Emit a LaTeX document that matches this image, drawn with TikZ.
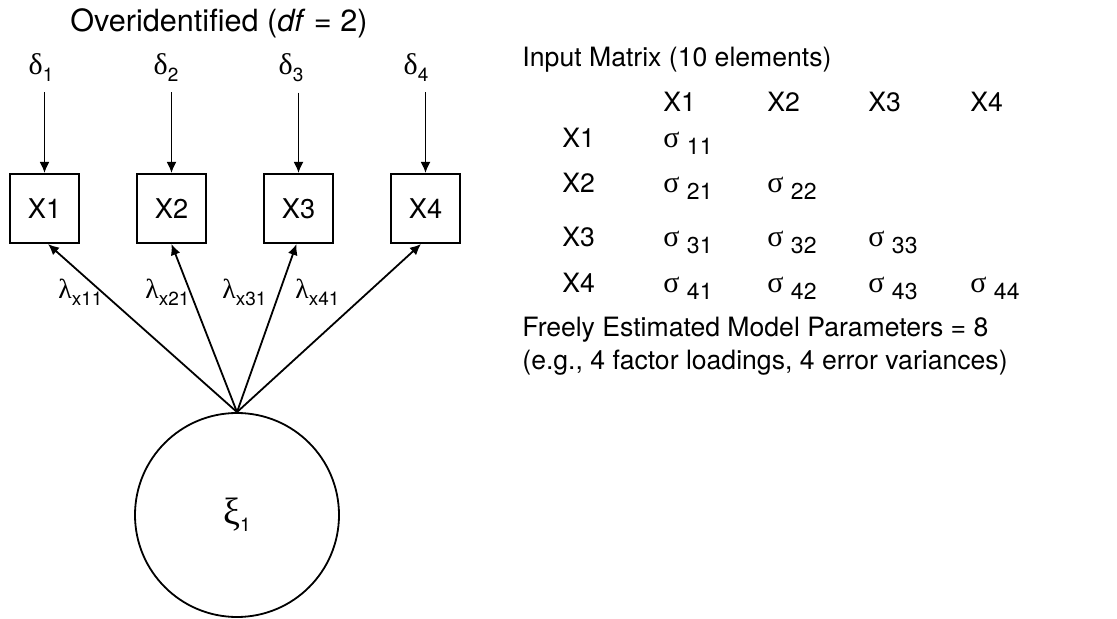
\documentclass[tikz,border=0pt]{standalone}
\usepackage{fontspec}
\setmainfont{TeX Gyre Heros}
\newfontfamily\grkfont{Liberation Serif}
\usepackage{tikz}
\usetikzlibrary{arrows.meta,positioning}
\newcommand{\grk}[2][14.5]{{\fontsize{#1}{#1}\grkfont\selectfont #2}}
\newcommand{\lowsub}[1]{\raisebox{-3.5pt}{\fontsize{9.5}{10}\selectfont #1}}
\newcommand{\msub}[1]{\raisebox{-3.5pt}{\fontsize{11.5}{12}\selectfont #1}}

\begin{document}
\begin{tikzpicture}[
  x=0.5pt, y=-0.5pt,
  txt/.style={font=\fontsize{13.3}{16}\selectfont, inner sep=0pt},
  dlt/.style={font=\fontsize{13.3}{16}\selectfont, inner sep=5pt},
  obs/.style={draw, line width=1pt, minimum size=34.5pt, inner sep=0pt,
    font=\fontsize{13.6}{16}\selectfont},
  lat/.style={draw, circle, line width=0.9pt, minimum size=102pt, inner sep=0pt,
    font=\fontsize{13.3}{16}\selectfont},
  arr/.style={-{Latex[length=5.5pt,width=5pt]}, line width=0.9pt}
]
  \useasboundingbox (0,0) rectangle (1117,619);
  % model
  \node[txt, anchor=base west, font=\fontsize{15.3}{18}\selectfont] (title) at (70,32)
    {Overidentified (\textit{df} = 2)};
  \node[obs] (x1) at (44.5,208.5) {X1};
  \node[obs, right=28pt of x1] (x2) {X2};
  \node[obs, right=28pt of x2] (x3) {X3};
  \node[obs, right=28pt of x3] (x4) {X4};
  \node[dlt, anchor=base] (d1) at (41,75) {\grk[15]{δ}\lowsub{1}};
  \node[dlt, anchor=base] (d2) at (166,75) {\grk[15]{δ}\lowsub{2}};
  \node[dlt, anchor=base] (d3) at (291,75) {\grk[15]{δ}\lowsub{3}};
  \node[dlt, anchor=base] (d4) at (416,75) {\grk[15]{δ}\lowsub{4}};
  \node[lat] (xi) at (237,515) {\grk[19]{ξ}\lowsub{1}};
  \draw[arr] (d1.south -| x1) -- (x1.north);
  \draw[arr] (d2.south -| x2) -- (x2.north);
  \draw[arr] (d3.south -| x3) -- (x3.north);
  \draw[arr] (d4.south -| x4) -- (x4.north);
  \draw[arr] (xi.north) -- ([xshift=1.75pt]x1.south);
  \draw[arr] (xi.north) -- (x2.south);
  \draw[arr] (xi.north) -- ([xshift=-1pt]x3.south);
  \draw[arr] (xi.north) -- ([xshift=-2.25pt]x4.south);
  \node[txt, anchor=base west] (l1) at (58,299) {\grk[13.8]{λ}\lowsub{x11}};
  \node[txt, anchor=base west] (l2) at (145,299) {\grk[13.8]{λ}\lowsub{x21}};
  \node[txt, anchor=base west] (l3) at (222,299) {\grk[13.8]{λ}\lowsub{x31}};
  \node[txt, anchor=base west] (l4) at (295,299) {\grk[13.8]{λ}\lowsub{x41}};
  % input matrix
  \node[txt, anchor=base west] (mtitle) at (522,67) {Input Matrix (10 elements)};
  \node[txt, anchor=base west] (c1) at (663,112) {X1};
  \node[txt, anchor=base west] (c2) at (767,112) {X2};
  \node[txt, anchor=base west] (c3) at (868,112) {X3};
  \node[txt, anchor=base west] (c4) at (970,112) {X4};
  \node[txt, anchor=base west] (r1) at (562,148) {X1};
  \node[txt, anchor=base west] (r2) at (562,193) {X2};
  \node[txt, anchor=base west] (r3) at (562,247) {X3};
  \node[txt, anchor=base west] (r4) at (562,293) {X4};
  \node[txt, anchor=base west] (s11) at (c1.base west |- r1.base) {\grk[15]{σ} \msub{11}};
  \node[txt, anchor=base west] (s21) at (c1.base west |- r2.base) {\grk[15]{σ} \msub{21}};
  \node[txt, anchor=base west] (s22) at (c2.base west |- r2.base) {\grk[15]{σ} \msub{22}};
  \node[txt, anchor=base west] (s31) at (c1.base west |- r3.base) {\grk[15]{σ} \msub{31}};
  \node[txt, anchor=base west] (s32) at (c2.base west |- r3.base) {\grk[15]{σ} \msub{32}};
  \node[txt, anchor=base west] (s33) at (c3.base west |- r3.base) {\grk[15]{σ} \msub{33}};
  \node[txt, anchor=base west] (s41) at (c1.base west |- r4.base) {\grk[15]{σ} \msub{41}};
  \node[txt, anchor=base west] (s42) at (c2.base west |- r4.base) {\grk[15]{σ} \msub{42}};
  \node[txt, anchor=base west] (s43) at (c3.base west |- r4.base) {\grk[15]{σ} \msub{43}};
  \node[txt, anchor=base west] (s44) at (c4.base west |- r4.base) {\grk[15]{σ} \msub{44}};
  \node[txt, anchor=base west] (par) at (522,337) {Freely Estimated Model Parameters = 8};
  \node[txt, anchor=base west] (parnote) at (522,370) {(e.g., 4 factor loadings, 4 error variances)};
\end{tikzpicture}
\end{document}
